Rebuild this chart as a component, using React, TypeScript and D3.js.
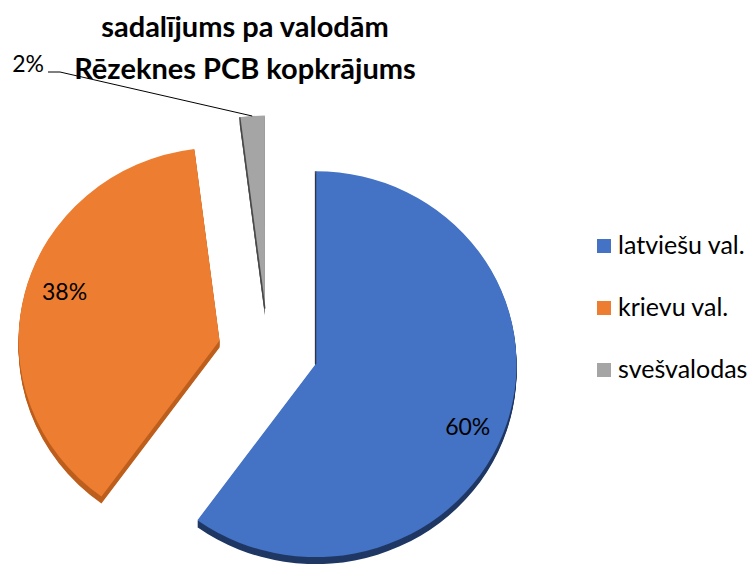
import { useEffect, useRef } from "react";
import { select, pie, arc, sum, PieArcDatum } from "d3";

// chart data
const categories = ["latviešu val.", "krievu val.", "svešvalodas"];
const values = [60, 38, 2];
const colors = ["#4472C4", "#ED7D31", "#A5A5A5"];
const sideColors = ["#203864", "#BD5F1E", "#7A7A7A"];
const titleLines = ["sadalījums pa valodām", "Rēzeknes PCB kopkrājums"];

const W = 747;
const H = 565;

export default function App() {
    const svgRef = useRef<SVGSVGElement>(null);

    useEffect(() => {
        document.body.style.margin = "0";
        const svg = select(svgRef.current);
        svg.selectAll("*").remove();

        // pie geometry (slightly tilted, exploded)
        const cx = 268;
        const cy = 351;
        const rx = 201;
        const sy = 0.96;
        const explode = 50;
        const explodeY = 0.85;
        const depth = 7;

        const total = sum(values);
        const slices = pie<number>().sort(null).value((d) => d)(values);
        const arcGen = arc<PieArcDatum<number>>().innerRadius(0).outerRadius(rx);

        const centerOf = (d: PieArcDatum<number>) => {
            const m = (d.startAngle + d.endAngle) / 2;
            return [cx + explode * Math.sin(m), cy - explode * Math.cos(m) * explodeY];
        };

        const font = "Lato, 'Open Sans', sans-serif";

        slices.forEach((d, i) => {
            const [x, y] = centerOf(d);
            const g = svg.append("g");
            // side / depth
            for (let k = depth; k >= 1; k--) {
                g.append("path")
                    .attr("d", arcGen(d))
                    .attr("transform", `translate(${x},${y + k}) scale(1,${sy})`)
                    .attr("fill", sideColors[i]);
            }
            // top face
            g.append("path")
                .attr("d", arcGen(d))
                .attr("transform", `translate(${x},${y}) scale(1,${sy})`)
                .attr("fill", colors[i]);

            // thin shaded edge on radii facing the gap
            if (Math.cos(d.startAngle) > 0.5) {
                g.append("line")
                    .attr("x1", x)
                    .attr("y1", y)
                    .attr("x2", x + rx * Math.sin(d.startAngle))
                    .attr("y2", y - rx * sy * Math.cos(d.startAngle))
                    .attr("stroke", "#2b2b2b")
                    .attr("stroke-width", 1.5)
                    .attr("opacity", 0.7);
            }
        });

        // data labels
        const labelRx = 160;
        const labelRy = 200;
        slices.forEach((d) => {
            const [x, y] = centerOf(d);
            const m = (d.startAngle + d.endAngle) / 2;
            const txt = Math.round((d.value / total) * 100) + "%";
            if (d.value / total >= 0.05) {
                svg.append("text")
                    .attr("x", x + labelRx * Math.sin(m))
                    .attr("y", y - labelRy * Math.cos(m))
                    .attr("text-anchor", "middle")
                    .attr("dominant-baseline", "central")
                    .attr("font-family", font)
                    .attr("font-size", 23)
                    .attr("fill", "#000")
                    .text(txt);
            } else {
                // outside label with leader line
                const px = x + rx * Math.sin(m);
                const py = y - rx * sy * Math.cos(m);
                const lx = 46;
                const ly = 72;
                svg.append("polyline")
                    .attr("points", `${px},${py} ${lx + 14},${ly} ${lx + 2},${ly}`)
                    .attr("fill", "none")
                    .attr("stroke", "#000")
                    .attr("stroke-width", 1);
                svg.append("text")
                    .attr("x", lx - 2)
                    .attr("y", ly)
                    .attr("text-anchor", "end")
                    .attr("font-family", font)
                    .attr("font-size", 23)
                    .attr("fill", "#000")
                    .text(txt);
            }
        });

        // title
        svg.append("g")
            .selectAll("text")
            .data(titleLines)
            .join("text")
            .attr("x", 245)
            .attr("y", (_, i) => 37 + i * 42)
            .attr("text-anchor", "middle")
            .attr("font-family", font)
            .attr("font-weight", "bold")
            .attr("font-size", 29)
            .attr("fill", "#000")
            .text((t) => t);

        // legend
        const legend = svg.append("g").attr("transform", "translate(597,239)");
        const rows = legend
            .selectAll("g")
            .data(categories)
            .join("g")
            .attr("transform", (_, i) => `translate(0,${i * 62})`);
        rows.append("rect")
            .attr("width", 14)
            .attr("height", 14)
            .attr("fill", (_, i) => colors[i]);
        rows.append("text")
            .attr("x", 21)
            .attr("y", 15)
            .attr("font-family", font)
            .attr("font-size", 25)
            .attr("fill", "#000")
            .text((t) => t);
    }, []);

    return <svg ref={svgRef} width={W} height={H} style={{ display: "block", background: "#fff" }} />;
}
